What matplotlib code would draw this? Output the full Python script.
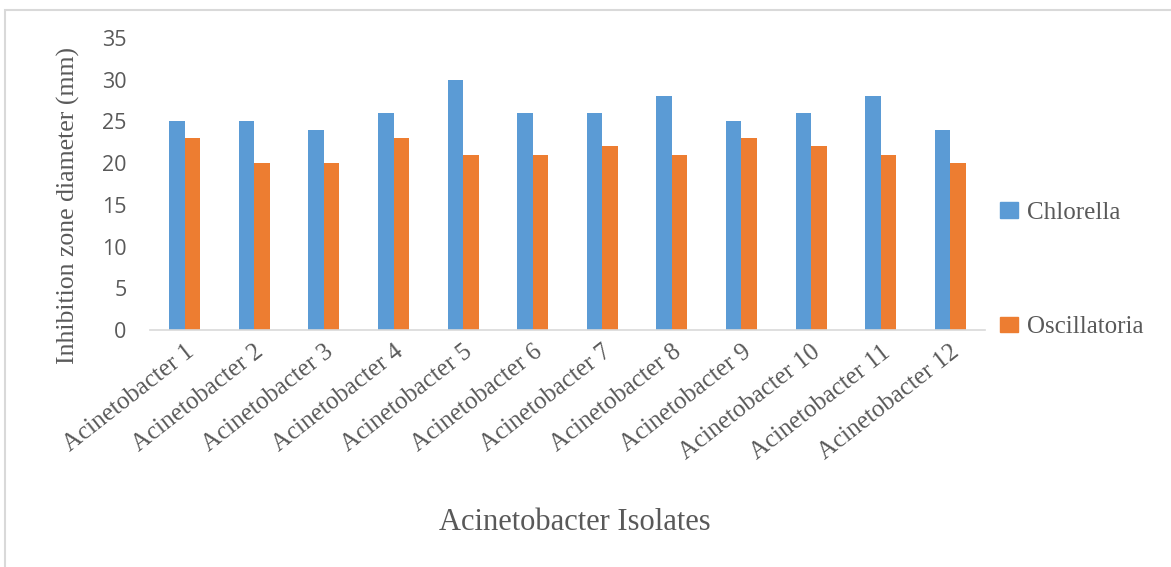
import matplotlib
matplotlib.use("Agg")
import matplotlib.pyplot as plt
import matplotlib.transforms as mtransforms
from matplotlib.patches import Rectangle, Patch
import numpy as np

isolates = [f"Acinetobacter {i}" for i in range(1, 13)]
chlorella = [25, 25, 24, 26, 30, 26, 26, 28, 25, 26, 28, 24]
oscillatoria = [23, 20, 20, 23, 21, 21, 22, 21, 23, 22, 21, 20]
series_names = ["Chlorella", "Oscillatoria"]
y_ticks = [0, 5, 10, 15, 20, 25, 30, 35]

BLUE = "#5B9BD5"
ORANGE = "#ED7D31"
GRAY = "#595959"
SERIF = "Liberation Serif"

fig = plt.figure(figsize=(11.71, 5.67), dpi=100)
fig.patches.append(Rectangle((5 / 1171, -0.05), 1.2, (567 - 10) / 567 + 0.05,
                             transform=fig.transFigure, fill=False,
                             edgecolor="#d9d9d9", linewidth=1.5))

ax = fig.add_axes([150 / 1171, 237 / 567, 835 / 1171, (329 - 37) / 567])
x = np.arange(len(isolates))
w = 0.223
ax.bar(x - w / 2, chlorella, width=w, color=BLUE, label=series_names[0])
ax.bar(x + w / 2, oscillatoria, width=w, color=ORANGE, label=series_names[1])

ax.set_xlim(-0.5, len(isolates) - 0.5)
ax.set_ylim(0, 35)
ax.set_yticks(y_ticks)
ax.set_yticklabels([str(v) for v in y_ticks], fontsize=15.5, color=GRAY,
                   family="Open Sans")
ax.set_xticks(x)
ax.set_xticklabels(isolates, rotation=38, ha="right", rotation_mode="anchor",
                   fontsize=18, color=GRAY, family=SERIF)
# nudge the slanted category labels so their ends sit just right of each tick
shift = mtransforms.ScaledTranslation(4 / 100, -14 / 100, fig.dpi_scale_trans)
for lbl in ax.get_xticklabels():
    lbl.set_transform(lbl.get_transform() + shift)
ax.tick_params(axis="both", length=0)
ax.tick_params(axis="y", pad=17)
ax.tick_params(axis="x", pad=8)
for side in ("top", "right", "left"):
    ax.spines[side].set_visible(False)
ax.spines["bottom"].set_color("#d9d9d9")
ax.spines["bottom"].set_linewidth(1.2)

fig.text(68 / 1171, 1 - 206 / 567, "Inhibition zone diameter (mm)",
         fontsize=18.5, color=GRAY, family=SERIF, rotation=90,
         ha="center", va="center")
fig.text(575 / 1171, 1 - 523 / 567, "Acinetobacter Isolates", fontsize=22,
         color=GRAY, family=SERIF, ha="center", va="center")

handles = [Patch(color=BLUE), Patch(color=ORANGE)]
fig.legend(handles, series_names, loc="center left",
           bbox_to_anchor=(977 / 1171, 1 - 270 / 567), frameon=False,
           handlelength=0.75, handleheight=0.6, handletextpad=0.35,
           labelspacing=3.7, prop={"family": SERIF, "size": 18},
           labelcolor=GRAY)

fig.savefig("out.png", dpi=100)
